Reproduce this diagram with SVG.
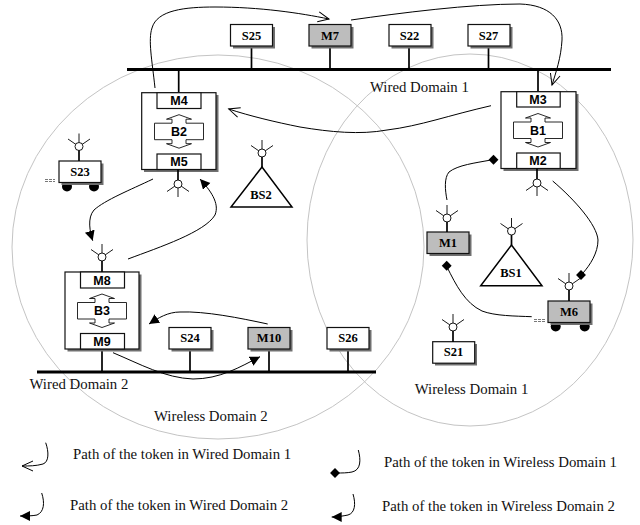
<svg xmlns="http://www.w3.org/2000/svg" xmlns:xlink="http://www.w3.org/1999/xlink" width="640" height="525" viewBox="0 0 640 525">
<style>
.dom{fill:none;stroke:#c4c4c4;stroke-width:1}
.bus{stroke:#000;stroke-width:3.200;fill:none}
.stem{stroke:#000;stroke-width:1.700;fill:none}
.box{fill:#fff;stroke:#111;stroke-width:1.200}
.gray{fill:#bdbdbd;stroke:#111;stroke-width:1.200}
.sh{fill:#707070}
.bl{font:bold 12.500px "Liberation Serif",serif;text-anchor:middle;fill:#000}
.bs{font:bold 12.500px "Liberation Sans",sans-serif;text-anchor:middle;fill:#000}
.lab{font:14.800px "Liberation Serif",serif;fill:#111}
.path{fill:none;stroke:#000;stroke-width:1}
.tri{fill:#fff;stroke:#000;stroke-width:1.500}
.ant{fill:none;stroke:#000;stroke-width:.9}
.antc{fill:#fff;stroke:#000;stroke-width:.9}
</style>
<defs>
<g id="ant">
<path class="ant" d="M0 -13V-4M-3 -2L-11 -7.500M3 -2L11 -7.500"/>
<circle class="antc" r="4"/>
</g>
<g id="antd">
<path class="ant" d="M0 13V4M-3 2L-11 7.500M3 2L11 7.500"/>
<circle class="antc" r="4"/>
</g>
<path id="arr" class="box" style="stroke-width:.9" d="M-24.500 8.500H-7V4.500H-12.500L0 0L12.500 4.500H7V8.500H24.500V25H7V29H12.500L0 33.500L-12.500 29H-7V25H-24.500Z"/>
<rect id="dia" x="-3.500" y="-3.500" width="7" height="7" transform="rotate(45)" fill="#000"/>
<marker id="open" markerUnits="userSpaceOnUse" markerWidth="14" markerHeight="14" refX="12" refY="6" orient="auto"><path d="M1 1L12 6L1 11" fill="none" stroke="#000" stroke-width="1"/></marker>
<marker id="fill" markerUnits="userSpaceOnUse" markerWidth="12" markerHeight="12" refX="10" refY="5" orient="auto"><path d="M0 0L10 5L0 10Z" fill="#000"/></marker>
</defs>
<g id="domains">
<ellipse class="dom" cx="218" cy="247" rx="206" ry="192"/>
<ellipse class="dom" cx="470" cy="240" rx="163" ry="186"/>
</g>
<g id="buses">
<path class="bus" d="M127 69.500H611"/>
<path class="bus" d="M37 372H376"/>
<path class="stem" d="M251.500 46V69M330 46V69M409 46V69M488.500 46V69M178.700 70V93M538 70V92M102 349V372M190 349V372M269 349V372M348 349V372"/>
</g>
<g id="S25"><rect class="sh" x="233" y="27" width="42" height="21.500"/><rect class="box" x="230.500" y="24.500" width="42" height="21.500"/><text class="bl" x="251.500" y="39.500">S25</text></g>
<g id="M7"><rect class="sh" x="311.500" y="27" width="42" height="21.500"/><rect class="gray" x="309" y="24.500" width="42" height="21.500"/><text class="bl" x="330" y="39.500">M7</text></g>
<g id="S22"><rect class="sh" x="391.500" y="27" width="42" height="21.500"/><rect class="box" x="389" y="24.500" width="42" height="21.500"/><text class="bl" x="409.500" y="39.500">S22</text></g>
<g id="S27"><rect class="sh" x="470.500" y="27" width="42" height="21.500"/><rect class="box" x="468" y="24.500" width="42" height="21.500"/><text class="bl" x="488.500" y="39.500">S27</text></g>
<g id="B2">
<rect class="sh" x="144" y="95" width="74.500" height="77"/><rect class="box" x="141.700" y="92.700" width="74.300" height="76.800"/>
<rect class="box" x="157" y="92.700" width="44" height="15.800"/><text class="bs" x="179" y="105">M4</text>
<use xlink:href="#arr" href="#arr" x="179" y="114.700"/><text class="bs" x="179" y="136">B2</text>
<rect class="box" x="157" y="154" width="44" height="15.500"/><text class="bs" x="179" y="166">M5</text>
<path class="stem" d="M178 169.500V180"/><use xlink:href="#antd" href="#antd" x="178" y="184"/>
</g>
<g id="S23">
<circle cx="67" cy="186.500" r="5" fill="#000"/><circle cx="94" cy="186.500" r="5" fill="#000"/>
<rect class="sh" x="61.500" y="163.500" width="42" height="21.500"/><rect class="box" x="59" y="161" width="42" height="21.500"/><text class="bl" x="80" y="175.500">S23</text>
<path class="stem" d="M79 150V161"/><use xlink:href="#ant" href="#ant" x="79" y="146.500"/>
<path d="M45 179.500H55M45 181.500H55" stroke="#555" stroke-width=".8" stroke-dasharray="3 1" fill="none"/>
</g>
<g id="BS2">
<path class="tri" d="M262 167L231 207H292Z"/><path class="stem" d="M262 157V167"/><use xlink:href="#ant" href="#ant" x="262" y="153"/>
<text class="bl" x="261" y="199">BS2</text>
</g>
<g id="B3">
<rect class="sh" x="67.500" y="274.500" width="74" height="77"/><rect class="box" x="65" y="272" width="74" height="77"/>
<rect class="box" x="80.500" y="272" width="44" height="16"/><text class="bs" x="102" y="284.500">M8</text>
<use xlink:href="#arr" href="#arr" x="102" y="294"/><text class="bs" x="102" y="315">B3</text>
<rect class="box" x="80.500" y="333.500" width="44" height="15.500"/><text class="bs" x="102" y="346">M9</text>
<path class="stem" d="M102 261V272"/><use xlink:href="#ant" href="#ant" x="102" y="257"/>
</g>
<g id="S24"><rect class="sh" x="171.500" y="330" width="42" height="21.500"/><rect class="box" x="169" y="327.500" width="42" height="21.500"/><text class="bl" x="190" y="342">S24</text></g>
<g id="M10"><rect class="sh" x="250.500" y="330" width="42" height="21.500"/><rect class="gray" x="248" y="327.500" width="42" height="21.500"/><text class="bl" x="269" y="342">M10</text></g>
<g id="S26"><rect class="sh" x="329.500" y="330" width="42" height="21.500"/><rect class="box" x="327" y="327.500" width="42" height="21.500"/><text class="bl" x="348" y="342">S26</text></g>
<g id="B1">
<rect class="sh" x="503.500" y="94" width="75" height="77"/><rect class="box" x="501" y="91.700" width="75" height="76.800"/>
<rect class="box" x="516.700" y="91.700" width="43.500" height="15.300"/><text class="bs" x="538" y="104">M3</text>
<use xlink:href="#arr" href="#arr" x="538" y="113.500"/><text class="bs" x="538" y="134.500">B1</text>
<rect class="box" x="516.700" y="153" width="43.500" height="15.500"/><text class="bs" x="538" y="165">M2</text>
<path class="stem" d="M537 168.500V179"/><use xlink:href="#antd" href="#antd" x="537" y="183"/>
</g>
<g id="M1"><rect class="sh" x="429.500" y="234.500" width="42" height="21.500"/><rect class="gray" x="427" y="232" width="42" height="21.500"/><text class="bl" x="448" y="246.500">M1</text>
<path class="stem" d="M447 222V232"/><use xlink:href="#ant" href="#ant" x="447" y="218"/></g>
<g id="BS1">
<path class="tri" d="M511.500 245L480.700 285.700H542Z"/><path class="stem" d="M511.500 235V245"/><use xlink:href="#ant" href="#ant" x="511.500" y="231"/>
<text class="bl" x="511" y="277">BS1</text>
</g>
<g id="M6">
<circle cx="555.700" cy="326.500" r="5" fill="#000"/><circle cx="584.700" cy="326.500" r="5" fill="#000"/>
<rect class="sh" x="550.500" y="303.500" width="42" height="21.500"/><rect class="gray" x="548" y="301" width="42" height="21.500"/><text class="bl" x="569" y="315.500">M6</text>
<path class="stem" d="M569 290V301"/><use xlink:href="#ant" href="#ant" x="569" y="286"/>
<path d="M534 319.500H545M534 321.500H545" stroke="#555" stroke-width=".8" stroke-dasharray="3 1" fill="none"/>
</g>
<g id="S21"><rect class="sh" x="435" y="344" width="42" height="21.500"/><rect class="box" x="432.700" y="341.700" width="42" height="21.500"/><text class="bl" x="453.500" y="355.500">S21</text>
<path class="stem" d="M453 331V342"/><use xlink:href="#ant" href="#ant" x="453" y="327"/></g>
<g id="connectors">
<path class="path" marker-end="url(#open)" d="M155 88C152 60 148 40 152 28C157 10 185 7 215 7C260 7 300 13 329 19"/>
<path class="path" marker-end="url(#open)" d="M351 20C400 13 470 4 520 4C550 5 563 20 562 40C561 58 556 72 552 85"/>
<path class="path" marker-end="url(#open)" d="M491 105.700C450 115 420 126 387 130C360 135 330 132 300 127C275 122 250 116 228.700 109"/>
<path class="path" marker-end="url(#fill)" d="M153 179C130 190 105 200 94 210C87 218 90 232 92.700 240.700"/>
<path class="path" marker-end="url(#fill)" d="M128 259C160 247 205 232 215 215C220 203 210 190 200 179"/>
<path class="path" d="M447 200C445 190 444 178 449 172C458 165 475 163 491 160"/>
<use xlink:href="#dia" href="#dia" x="493.500" y="159.700"/>
<path class="path" d="M552.700 181C575 200 597 225 598 240C598 253 590 265 583 273"/>
<use xlink:href="#dia" href="#dia" x="581" y="275"/>
<path class="path" d="M447 267C456 285 465 303 482 311C495 316 515 316 531.700 316.700"/>
<use xlink:href="#dia" href="#dia" x="446.700" y="265.700"/>
<path class="path" marker-end="url(#fill)" d="M267.700 324C240 318 205 311 180 312C168 312 158 318 149 324"/>
<path class="path" marker-end="url(#fill)" d="M113 352.700C140 364 165 378 193 379C220 379 240 367 260 356.700"/>
</g>
<g id="labels">
<text class="lab" x="370" y="92">Wired Domain 1</text>
<text class="lab" x="29.500" y="389">Wired Domain 2</text>
<text class="lab" x="154" y="421">Wireless Domain 2</text>
<text class="lab" x="414.700" y="394">Wireless Domain 1</text>
</g>
<g id="legend">
<path class="path" marker-end="url(#open)" d="M45.700 442.700C49 452 49 462 43 464C36 466 29 466 22 466"/>
<path class="path" marker-end="url(#fill)" d="M41.700 493C45 503 44 512 37 515C32 516 26 516 20 516"/>
<path class="path" d="M358.300 450C361 460 361 470 352 472C347 473 342 473 336 473"/>
<use xlink:href="#dia" href="#dia" x="335" y="473"/>
<path class="path" marker-end="url(#fill)" d="M353 494C356 504 355 513 348 515C343 516 337 517 331.700 517"/>
<text class="lab" x="73" y="459">Path of the token in Wired Domain 1</text>
<text class="lab" x="70" y="509.500">Path of the token in Wired Domain 2</text>
<text class="lab" x="384" y="467">Path of the token in Wireless Domain 1</text>
<text class="lab" x="382" y="511">Path of the token in Wireless Domain 2</text>
</g>
</svg>
